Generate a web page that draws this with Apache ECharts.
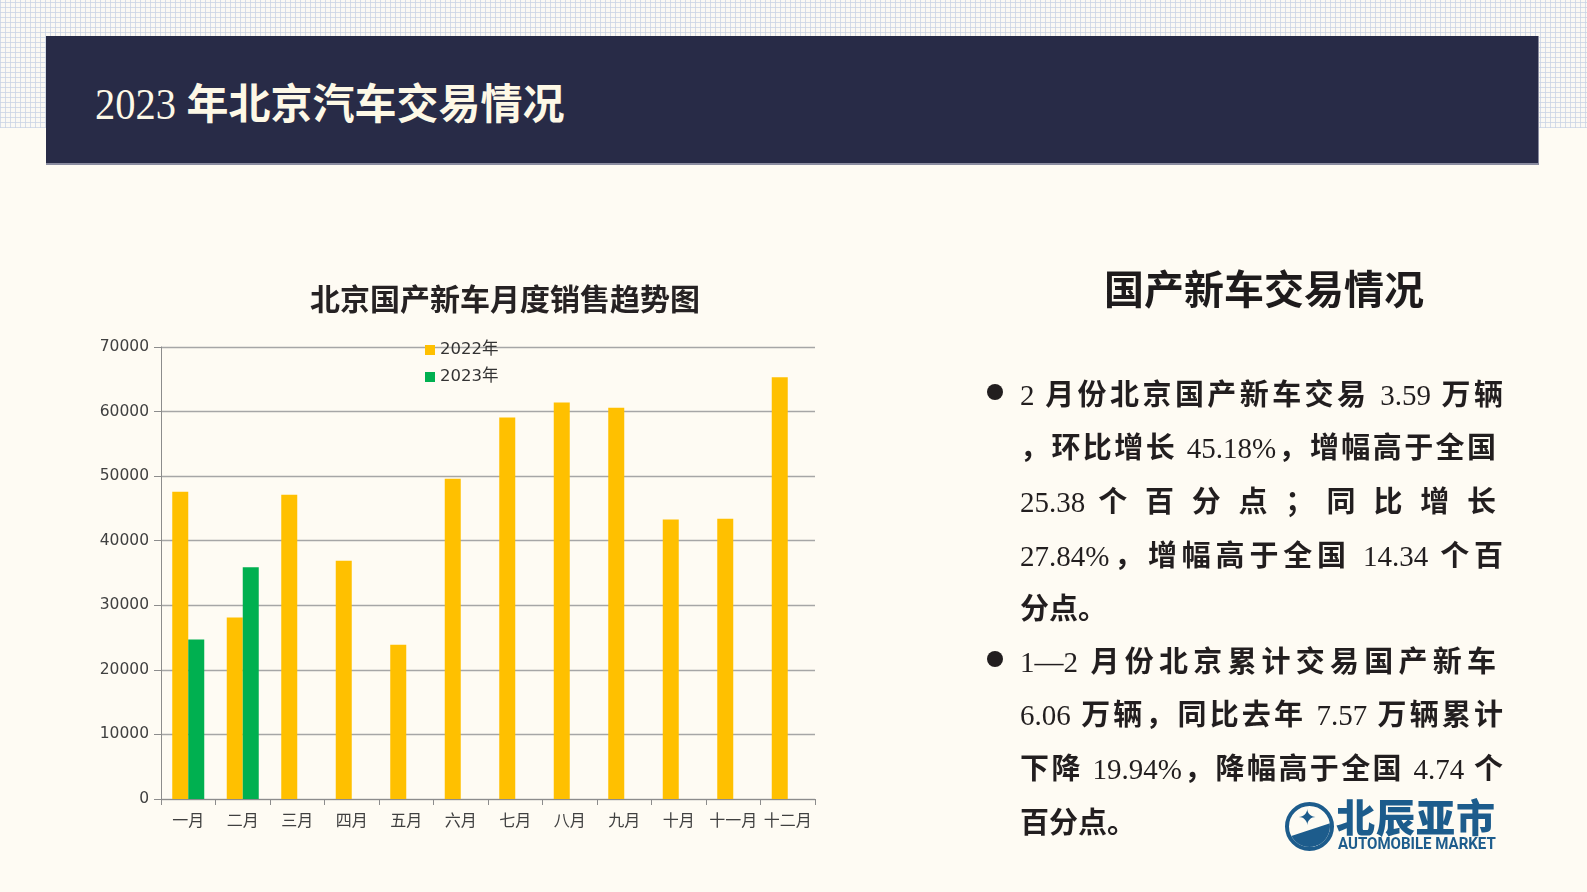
<!DOCTYPE html>
<html>
<head>
<meta charset="utf-8">
<script src="https://cdn.jsdelivr.net/npm/echarts@6/dist/echarts.min.js"></script>
<style>
  html, body { margin:0; padding:0; }
  body { width:1587px; height:892px; position:relative; overflow:hidden; background:#fefbf3;
         font-family:"Noto Sans CJK SC", sans-serif; }
  #pattern { position:absolute; left:0; top:0; width:1587px; height:128px;
    background-color:#fbf9f4;
    background-image:
      repeating-linear-gradient(90deg, rgba(200,210,228,0.75) 0px, rgba(200,210,228,0.75) 1px, transparent 1px, transparent 5px),
      repeating-linear-gradient(0deg, rgba(200,210,228,0.75) 0px, rgba(200,210,228,0.75) 1px, transparent 1px, transparent 5px); }
  #bar { position:absolute; left:46px; top:36px; width:1492px; height:127px; background:#282b47;
         border-right:1px solid #8a8ca0; border-bottom:2px solid #8a8ca0; }
  #bar .t { position:absolute; left:49px; top:67px; transform:translateY(-50%); white-space:nowrap;
            font-size:42px; font-weight:bold; color:#fdf8e6; line-height:1; }
  #bar .t .num { display:inline-block; transform:scaleX(0.92); transform-origin:left center; margin-right:-6px; font-size:44px; }
  .num { font-family:"Liberation Serif", "DejaVu Serif", serif; font-weight:normal; }
  #chart { position:absolute; left:0; top:0; width:1587px; height:892px; }
  #rhead { position:absolute; left:1264px; top:287px; transform:translate(-50%,-50%); white-space:nowrap;
           font-size:40px; font-weight:bold; color:#1e1b1c; line-height:1; }
  .ln { position:absolute; left:1020px; height:40px; line-height:40px; font-size:29px; font-weight:bold;
        color:#221e1f; white-space:nowrap; text-align:justify; text-align-last:justify; }
  .ln.left { text-align:left; text-align-last:left; }
  .dot { position:absolute; left:987px; width:16px; height:16px; border-radius:50%; background:#221e1f; }
  #logo { position:absolute; left:1284px; top:800px; width:230px; height:56px; }
  #logo .ring { position:absolute; left:1px; top:2px; width:41px; height:41px; border:4px solid #1d5c8c; border-radius:50%; overflow:hidden; }
  #logo .star { position:absolute; left:9px; top:-2px; font-size:22px; color:#1d5c8c; line-height:1; }
  #logo .wall { position:absolute; left:0px; top:24px; width:41px; height:18px; background:#1d5c8c; transform:skewY(-18deg); }
  #logo .cn { position:absolute; left:52px; top:-6px; font-size:39px; font-weight:900; color:#1d5c8c; letter-spacing:1px; line-height:1.1; white-space:nowrap; }
  #logo .en { position:absolute; left:54px; top:36px; font-size:16px; font-weight:bold; color:#1d5c8c; white-space:nowrap;
              font-family:"Liberation Sans Narrow","Roboto","Liberation Sans",sans-serif; line-height:1;
              transform:scaleX(0.94); transform-origin:left center; }
</style>
</head>
<body>
<div id="pattern"></div>
<div id="bar"><div class="t"><span class="num">2023</span> 年北京汽车交易情况</div></div>
<div id="chart"></div>
<div id="rhead">国产新车交易情况</div>

<div class="dot" style="top:384px"></div>
<div class="ln" style="top:372px;width:483px"><span class="num">2 </span>月份北京国产新车交易<span class="num"> 3.59 </span>万辆</div>
<div class="ln" style="top:425px;width:476px">，环比增长<span class="num"> 45.18%</span>，增幅高于全国</div>
<div class="ln" style="top:479px;width:476px"><span class="num">25.38 </span>个 百 分 点 ； 同 比 增 长</div>
<div class="ln" style="top:533px;width:483px"><span class="num">27.84%</span>，增幅高于全国<span class="num"> 14.34 </span>个百</div>
<div class="ln left" style="top:586px">分点。</div>

<div class="dot" style="top:651px"></div>
<div class="ln" style="top:639px;width:476px"><span class="num">1—2 </span>月份北京累计交易国产新车</div>
<div class="ln" style="top:692px;width:483px"><span class="num">6.06 </span>万辆，同比去年<span class="num"> 7.57 </span>万辆累计</div>
<div class="ln" style="top:746px;width:483px">下降<span class="num"> 19.94%</span>，降幅高于全国<span class="num"> 4.74 </span>个</div>
<div class="ln left" style="top:800px">百分点。</div>

<div id="logo">
  <div class="ring"><div class="wall"></div><div class="star">✦</div></div>
  <div class="cn">北辰亚市</div>
  <div class="en">AUTOMOBILE MARKET</div>
</div>

<script>
const chartTitle = '北京国产新车月度销售趋势图';
const categories = ['一月','二月','三月','四月','五月','六月','七月','八月','九月','十月','十一月','十二月'];
const seriesNames = ['2022年','2023年'];
const sales2022 = [47600, 28100, 47100, 36900, 23900, 49600, 59100, 61400, 60600, 43300, 43400, 65300];
const sales2023 = [24700, 35900, null, null, null, null, null, null, null, null, null, null];
const yMin = 0, yMax = 70000, yStep = 10000;

const chart = echarts.init(document.getElementById('chart'));
const labelFont = '"DejaVu Sans", "Noto Sans CJK SC", sans-serif';
chart.setOption({
  animation: false,
  title: {
    text: chartTitle, left: 505, top: 284, textAlign: 'center', padding: 0,
    textStyle: { fontSize: 30, fontWeight: 'bold', color: '#262223', fontFamily: '"Noto Sans CJK SC", sans-serif' }
  },
  legend: {
    orient: 'vertical', left: 425, top: 341, itemWidth: 10, itemHeight: 10, itemGap: 9,
    padding: 0, icon: 'rect',
    textStyle: { fontSize: 16.5, color: '#333', fontFamily: labelFont, lineHeight: 18 },
    data: seriesNames
  },
  grid: { left: 161, top: 347, width: 654, height: 452 },
  xAxis: {
    type: 'category', data: categories,
    axisLine: { lineStyle: { color: '#8c8c8c', width: 1 } },
    axisTick: { show: true, length: 6, lineStyle: { color: '#8c8c8c' } },
    axisLabel: { fontSize: 16, color: '#404040', margin: 13, fontFamily: '"Noto Sans CJK SC", sans-serif', interval: 0 }
  },
  yAxis: {
    type: 'value', min: yMin, max: yMax, interval: yStep,
    axisLine: { show: true, lineStyle: { color: '#8c8c8c', width: 1 } },
    axisTick: { show: true, length: 7, lineStyle: { color: '#8c8c8c' } },
    axisLabel: { fontSize: 15.5, color: '#404040', margin: 12, fontFamily: labelFont, formatter: v => String(v) },
    splitLine: { lineStyle: { color: '#a6a6a6', width: 1.3 } }
  },
  series: [
    { name: seriesNames[0], type: 'bar', data: sales2022, barWidth: 16, barGap: '0%', itemStyle: { color: '#FFC000' } },
    { name: seriesNames[1], type: 'bar', data: sales2023, barWidth: 16, barGap: '0%', itemStyle: { color: '#00B050' } }
  ]
});
</script>
</body>
</html>
